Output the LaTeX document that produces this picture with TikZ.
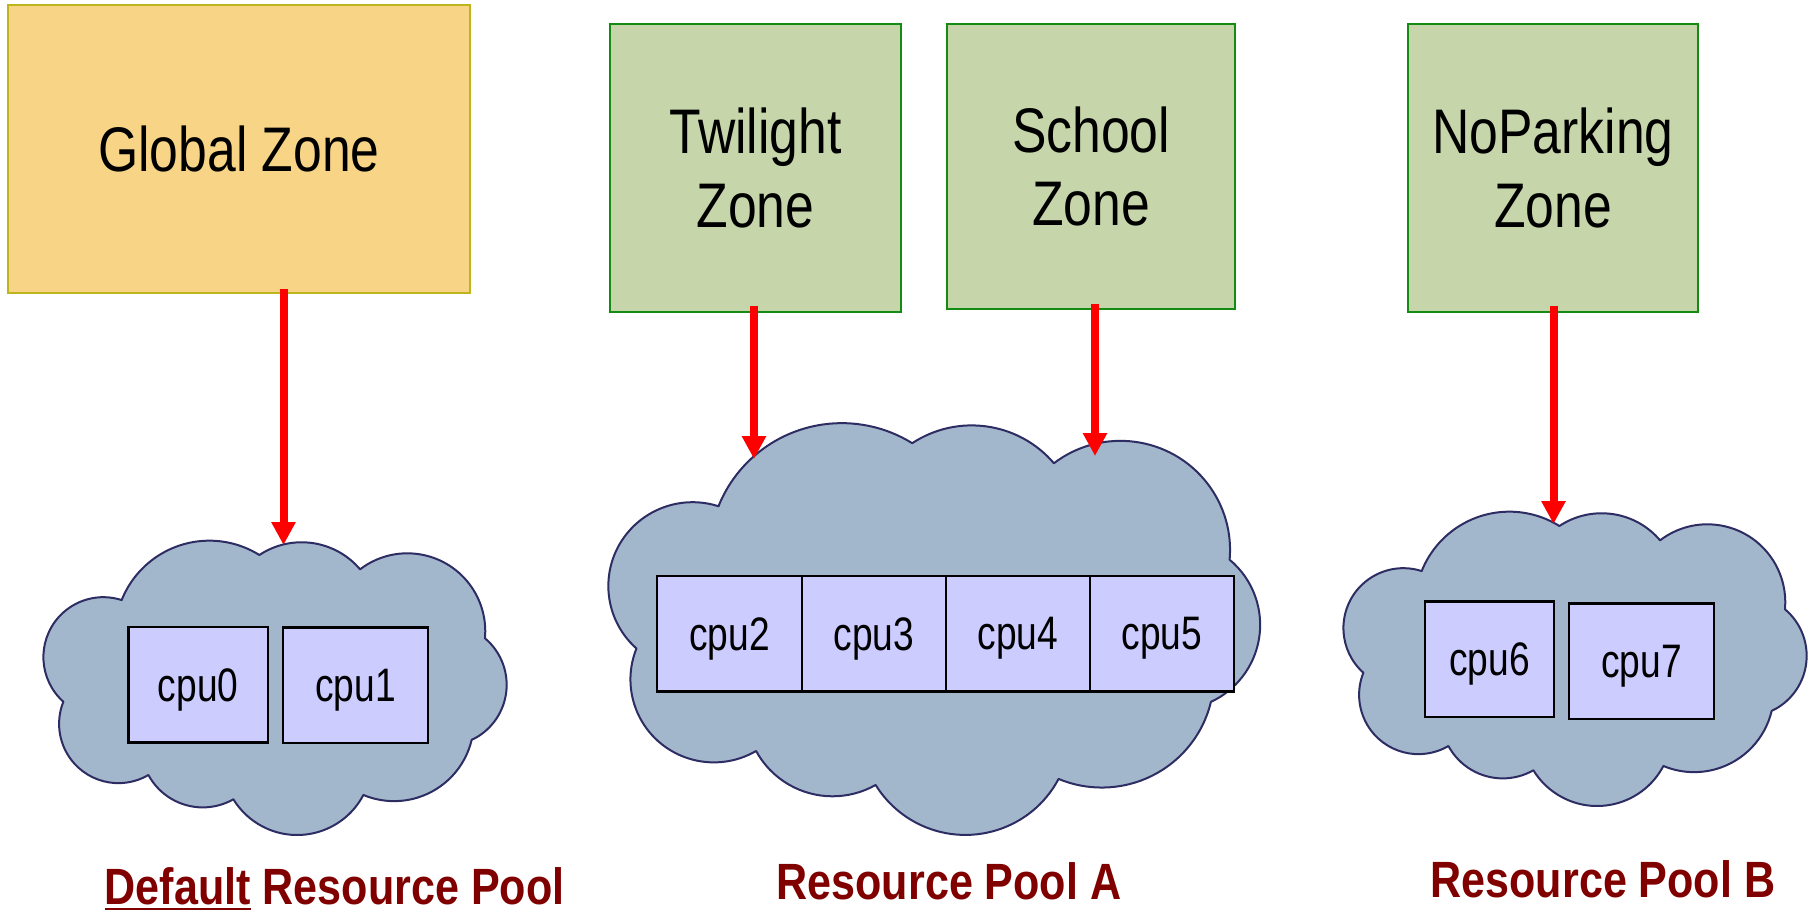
\documentclass[tikz,border=0pt]{standalone}
\usepackage{fontspec}
\setmainfont{Liberation Sans}
\newfontfamily\narrowsans[FakeStretch=0.82]{Liberation Sans}
\newfontfamily\cpusans[FakeStretch=0.79]{Liberation Sans}
\newfontfamily\labelsans[FakeStretch=0.845]{Liberation Sans}
\usetikzlibrary{arrows.meta}

\definecolor{globalfill}{RGB}{247,212,134}
\definecolor{globaledge}{RGB}{190,180,30}
\definecolor{zonefill}{RGB}{198,214,170}
\definecolor{zoneedge}{RGB}{20,140,20}
\definecolor{cloudfill}{RGB}{163,183,204}
\definecolor{cloudedge}{RGB}{45,45,100}
\definecolor{cpufill}{RGB}{204,204,255}
\definecolor{poolred}{RGB}{128,0,0}

% underlined word with a heavier rule than \underline gives
\newcommand\ulinedword[1]{\setbox0=\hbox{#1}\rlap{\rule[-6pt]{\wd0}{2.5pt}}\box0\relax}

% outline of one resource-pool cloud (nine bumps, clockwise from the upper left)
\newcommand\cloudoutline{(121.7,600)
  arc[start angle=-158.2, end angle=-58.0, radius=94.4]
  arc[start angle=-123.5, end angle=-40.3, radius=76.6]
  arc[start angle=-127.4, end angle=5.2,   radius=77.9]
  arc[start angle=-50.0,  end angle=64.9,  radius=60.8]
  arc[start angle=13.4,   end angle=112.7, radius=79.7]
  arc[start angle=27.7,   end angle=148.5, radius=74.8]
  arc[start angle=60.3,   end angle=151.6, radius=61.8]
  arc[start angle=59.6,   end angle=201.9, radius=59.3]
  arc[start angle=131.8,  end angle=288.0, radius=59.9]
  -- cycle}

\tikzset{
  zonebox/.style={draw, line width=2pt, inner sep=0pt, align=center,
    font=\narrowsans\fontsize{63}{73.3}\selectfont},
  globalbox/.style={zonebox, fill=globalfill, draw=globaledge},
  greenbox/.style={zonebox, fill=zonefill, draw=zoneedge},
  cpubox/.style={draw=black, line width=2.5pt, fill=cpufill, inner sep=0pt,
    text depth=0pt, minimum height=115.5pt,
    font=\cpusans\fontsize{47}{56}\selectfont},
  poollabel/.style={text=poolred, anchor=base, inner sep=0pt,
    font=\labelsans\bfseries\fontsize{51}{60}\selectfont},
  cloudshape/.style={fill=cloudfill, draw=cloudedge, line width=2pt, line join=round},
  zonearrow/.style={draw=red, line width=8pt, -{Triangle[length=23pt,width=23pt]}}
}

\begin{document}
\begin{tikzpicture}[x=1pt,y=-1pt]
\fill[white] (0,0) rectangle (1813,912);
\useasboundingbox (0,0) rectangle (1813,912);

% zones
\node[globalbox, minimum width=462pt, minimum height=288pt] (gz) at (239,149) {Global Zone};
\node[greenbox, minimum width=291pt, minimum height=288pt] (tz) at (755.5,168) {Twilight\\Zone};
\node[greenbox, minimum width=288pt, minimum height=285pt] (sz) at (1091,166.5) {School\\Zone};
\node[greenbox, minimum width=290pt, minimum height=288pt] (nz) at (1553,168) {NoParking\\Zone};

% resource pools
\draw[cloudshape] \cloudoutline;
\draw[cloudshape, shift={(547.28,-333.24)}, xscale=1.407, yscale=1.399] \cloudoutline;
\draw[cloudshape, shift={(1300,-29)}] \cloudoutline;

% processors
\node[cpubox, minimum width=139.5pt] (cpu0) at (198.25,684.75) {cpu0};
\node[cpubox, minimum width=145pt]   (cpu1) at (355.5,685) {cpu1};
\node[cpubox, minimum width=145pt]   (cpu2) at (729.5,633.8) {cpu2};
\node[cpubox, minimum width=144pt]   (cpu3) at (874,633.8) {cpu3};
\node[cpubox, minimum width=144pt]   (cpu4) at (1018,633.8) {cpu4};
\node[cpubox, minimum width=144pt]   (cpu5) at (1162,633.8) {cpu5};
\node[cpubox, minimum width=129pt]   (cpu6) at (1489.5,659) {cpu6};
\node[cpubox, minimum width=145pt]   (cpu7) at (1641.5,661) {cpu7};

% bindings of zones to pools
\coordinate (gtip) at (283.5,545);
\coordinate (ttip) at (754,459);
\coordinate (stip) at (1095,456);
\coordinate (ntip) at (1553.5,524);
\draw[zonearrow] ([yshift=5pt]gz.south -| gtip) -- (gtip);
\draw[zonearrow] ([yshift=7pt]tz.south -| ttip) -- (ttip);
\draw[zonearrow] ([yshift=6pt]sz.south -| stip) -- (stip);
\draw[zonearrow] ([yshift=7pt]nz.south -| ntip) -- (ntip);

% pool names
\node[poollabel] (p0) at (334.7,904) {\ulinedword{Default} Resource Pool};
\node[poollabel] (pa) at (949,899) {Resource Pool A};
\node[poollabel] (pb) at (1603,897) {Resource Pool B};
\end{tikzpicture}
\end{document}
